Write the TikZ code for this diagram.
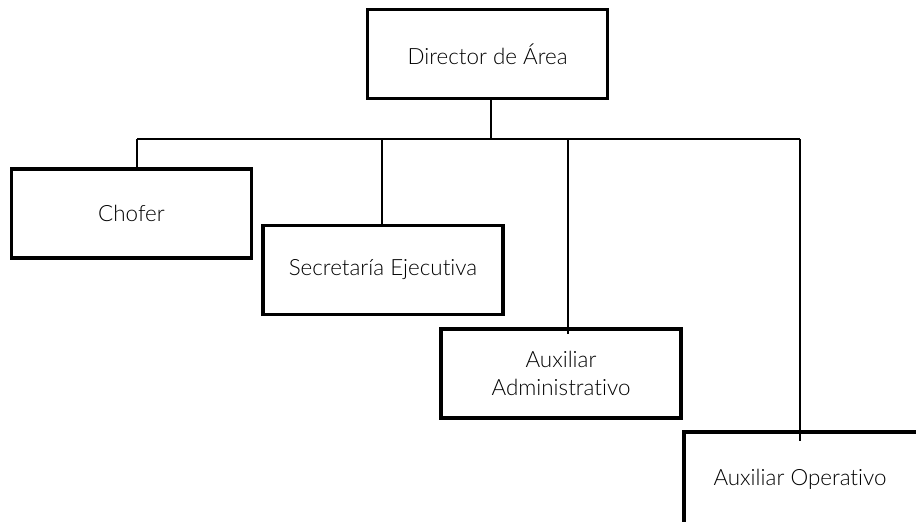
\documentclass[tikz,border=0pt]{standalone}
\usepackage{fontspec}
\setmainfont{Lato}[UprightFont=* Light, Ligatures=NoCommon]
\usetikzlibrary{calc}

\tikzset{
  puesto/.style={draw, line width=1.6pt, minimum width=120pt, minimum height=44.5pt,
    align=center, font=\fontsize{11.2}{14}\selectfont, inner sep=0pt},
  rama/.style={line width=0.6pt}
}

\begin{document}
\begin{tikzpicture}[x=0.5pt, y=-0.5pt]
  \clip (0,0) rectangle (916,521);
  \useasboundingbox (0,0) rectangle (916,521);

  \node[puesto] (director) at (487.5,54) {Director de Área};
  \node[puesto] (chofer) at (131.5,213.5) {Chofer};
  \node[puesto] (secretaria) at (383,270) {Secretaría Ejecutiva};
  \node[puesto] (auxadmin) at (561,373.5) {Auxiliar\\Administrativo};
  \node[puesto, minimum width=122pt, minimum height=47pt] (auxoper) at (806,479) {Auxiliar Operativo\hspace{6pt}};

  \coordinate (tronco) at (491,139);
  \coordinate (izq) at (137,139);
  \coordinate (der) at (800,139);

  \draw[rama] (director.south -| tronco) -- (tronco);
  \draw[rama] (izq) -- (der);

  \foreach \x/\hijo/\extra in {137/chofer/0, 382/secretaria/0, 568/auxadmin/7, 800/auxoper/11} {
    \draw[rama] (\x,139) -- ($ (\hijo.north -| \x,0) + (0,\extra) $);
  }
\end{tikzpicture}
\end{document}
